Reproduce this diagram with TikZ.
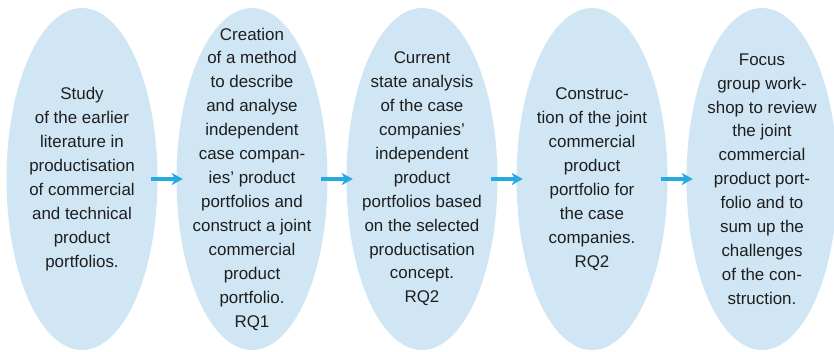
\documentclass[tikz,border=0pt]{standalone}
\usepackage{fontspec}
\setmainfont{Liberation Sans}
\usetikzlibrary{shapes.geometric,arrows.meta}

\definecolor{stagefill}{RGB}{208,230,244}
\definecolor{arrowblue}{RGB}{38,170,225}
\definecolor{textgray}{RGB}{30,30,30}

\begin{document}
\begin{tikzpicture}[x=1bp,y=-1bp,
    stage/.style={ellipse,fill=stagefill,inner sep=0pt,minimum width=151bp,minimum height=342bp},
    stagetext/.style={align=center,text=textgray,inner sep=0pt,font=\fontsize{17}{24}\selectfont},
    flow/.style={line width=3.5bp,color=arrowblue,-{Stealth[length=11bp,width=12bp,inset=3bp]},
      shorten <=-7bp,shorten >=-6.5bp}]
        \useasboundingbox (0,0) rectangle (834,351);
        \clip (0,0) rectangle (834,351);
        % the five stages
        \node[stage] (s1) at (82,179) {};
        \node[stage] (s2) at (252,179) {};
        \node[stage] (s3) at (422,179) {};
        \node[stage] (s4) at (592,179) {};
        \node[stage] (s5) at (762,179) {};
        % texts inside the stages
        \node[stagetext] (t1) at (s1) {Study\\of the earlier\\literature in\\productisation\\of commercial\\and technical\\product\\portfolios.};
        \node[stagetext] (t2) at (s2) {Creation\\of a method\\to describe\\and analyse\\independent\\case compan-\\ies’ product\\portfolios and\\construct a joint\\commercial\\product\\portfolio.\\RQ1};
        \node[stagetext] (t3) at (s3) {Current\\state analysis\\of the case\\companies’\\independent\\product\\portfolios based\\on the selected\\productisation\\concept.\\RQ2};
        \node[stagetext] (t4) at (s4) {Construc-\\tion of the joint\\commercial\\product\\portfolio for\\the case\\companies.\\RQ2};
        \node[stagetext] (t5) at (s5) {Focus\\group work-\\shop to review\\the joint\\commercial\\product port-\\folio and to\\sum up the\\challenges\\of the con-\\struction.};
        % arrows between the stages
        \draw[flow] (s1.east) -- (s2.west);
        \draw[flow] (s2.east) -- (s3.west);
        \draw[flow] (s3.east) -- (s4.west);
        \draw[flow] (s4.east) -- (s5.west);
      \end{tikzpicture}
\end{document}
